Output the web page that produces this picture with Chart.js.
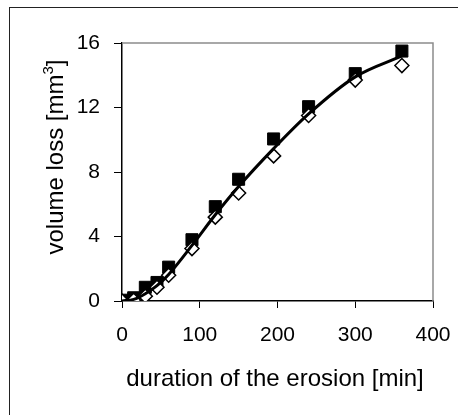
<!DOCTYPE html>
<html>
<head>
<meta charset="utf-8">
<script src="https://cdn.jsdelivr.net/npm/chart.js@4/dist/chart.umd.min.js"></script>
<style>
  body { margin: 0; background: #fff; }
  canvas { display: block; }
</style>
</head>
<body>
<canvas id="erosionChart" width="458" height="415"></canvas>
<script>
// erosion times [min]
const durations = [0, 15, 30, 45, 60, 90, 120, 150, 195, 240, 300, 360];
// measured volume loss [mm3]
const filledSquares = [0.05, 0.2, 0.85, 1.15, 2.1, 3.8, 5.85, 7.55, 10.05, 12.05, 14.1, 15.5];
const openDiamonds = [0, 0.05, 0.3, 0.85, 1.6, 3.25, 5.2, 6.7, 9.0, 11.5, 13.7, 14.6];
// fitted curve
const fitDurations = [0, 15, 30, 45, 60, 90, 120, 150, 195, 240, 300, 360];
const fitValues = [0, 0.1, 0.45, 0.95, 1.65, 3.45, 5.35, 7.1, 9.45, 11.6, 13.9, 15.2];
const xTicks = [0, 100, 200, 300, 400];
const yTicks = [0, 4, 8, 12, 16];

const toPoints = (xs, ys) => xs.map((x, i) => ({ x: x, y: ys[i] }));

// frame, gray plot border and axis titles
const decorations = {
  id: 'decorations',
  beforeDraw(chart) {
    const ctx = chart.ctx;
    ctx.save();
    ctx.fillStyle = '#fff';
    ctx.fillRect(0, 0, chart.width, chart.height);
    ctx.strokeStyle = '#222';
    ctx.lineWidth = 1;
    ctx.strokeRect(9.5, 7.5, 470, 430);
    ctx.restore();
  },
  beforeDatasetsDraw(chart) {
    const { ctx, chartArea } = chart;
    ctx.save();
    ctx.strokeStyle = '#8c8c8c';
    ctx.lineWidth = 1.5;
    ctx.beginPath();
    ctx.moveTo(chartArea.left, chartArea.top);
    ctx.lineTo(chartArea.right, chartArea.top);
    ctx.lineTo(chartArea.right, chartArea.bottom);
    ctx.stroke();
    ctx.restore();
  },
  afterDraw(chart) {
    const ctx = chart.ctx;
    ctx.save();
    ctx.fillStyle = '#000';
    ctx.font = '24px "Liberation Sans", Arial, sans-serif';
    ctx.textAlign = 'center';
    ctx.textBaseline = 'alphabetic';
    ctx.fillText('duration of the erosion [min]', 275, 386);

    // y title with superscript
    ctx.translate(63, 157);
    ctx.rotate(-Math.PI / 2);
    ctx.textAlign = 'left';
    const main = 'volume loss [mm';
    const sup = '3';
    const end = ']';
    const w1 = ctx.measureText(main).width;
    const w3 = ctx.measureText(end).width;
    ctx.font = '15px "Liberation Sans", Arial, sans-serif';
    const w2 = ctx.measureText(sup).width;
    let x0 = -(w1 + w2 + w3) / 2;
    ctx.font = '24px "Liberation Sans", Arial, sans-serif';
    ctx.fillText(main, x0, 0);
    ctx.font = '15px "Liberation Sans", Arial, sans-serif';
    ctx.fillText(sup, x0 + w1, -10);
    ctx.font = '24px "Liberation Sans", Arial, sans-serif';
    ctx.fillText(end, x0 + w1 + w2, 0);
    ctx.restore();
  }
};

const ctx = document.getElementById('erosionChart').getContext('2d');
const erosionChart = new Chart(ctx, {
  type: 'scatter',
  data: {
    datasets: [
      {
        label: 'fit',
        type: 'line',
        data: toPoints(fitDurations, fitValues),
        borderColor: '#000',
        borderWidth: 3,
        pointRadius: 0,
        fill: false,
        cubicInterpolationMode: 'monotone'
      },
      {
        label: 'open',
        data: toPoints(durations, openDiamonds),
        pointStyle: 'rectRot',
        pointRadius: 7,
        pointHoverRadius: 7,
        backgroundColor: '#fff',
        borderColor: '#000',
        borderWidth: 1.5
      },
      {
        label: 'filled',
        data: toPoints(durations, filledSquares),
        pointStyle: 'rect',
        pointRadius: 8.5,
        pointHoverRadius: 8.5,
        backgroundColor: '#000',
        borderColor: '#000',
        borderWidth: 1
      }
    ]
  },
  options: {
    responsive: false,
    animation: false,
    events: [],
    layout: { padding: { top: 43, right: 25, left: 0, bottom: 0 } },
    plugins: {
      legend: { display: false },
      tooltip: { enabled: false }
    },
    scales: {
      x: {
        type: 'linear',
        min: 0,
        max: 400,
        afterFit(scale) {
          scale.height = 114;
          scale.paddingLeft = 0;
          scale.paddingRight = 0;
        },
        afterBuildTicks(scale) { scale.ticks = xTicks.map(v => ({ value: v })); },
        border: { display: true, color: '#000', width: 1.5 },
        grid: { drawOnChartArea: false, drawTicks: true, tickLength: 7, color: '#000', tickWidth: 1 },
        ticks: {
          color: '#000',
          padding: 15,
          font: { family: '"Liberation Sans", Arial, sans-serif', size: 21 }
        }
      },
      y: {
        type: 'linear',
        min: 0,
        max: 16,
        afterFit(scale) {
          scale.width = 122;
          scale.paddingTop = 0;
          scale.paddingBottom = 0;
        },
        afterBuildTicks(scale) { scale.ticks = yTicks.map(v => ({ value: v })); },
        border: { display: true, color: '#000', width: 1.5 },
        grid: { drawOnChartArea: false, drawTicks: true, tickLength: 8, color: '#000', tickWidth: 1 },
        ticks: {
          color: '#000',
          padding: 14,
          font: { family: '"Liberation Sans", Arial, sans-serif', size: 21 }
        }
      }
    }
  },
  plugins: [decorations]
});
</script>
</body>
</html>
